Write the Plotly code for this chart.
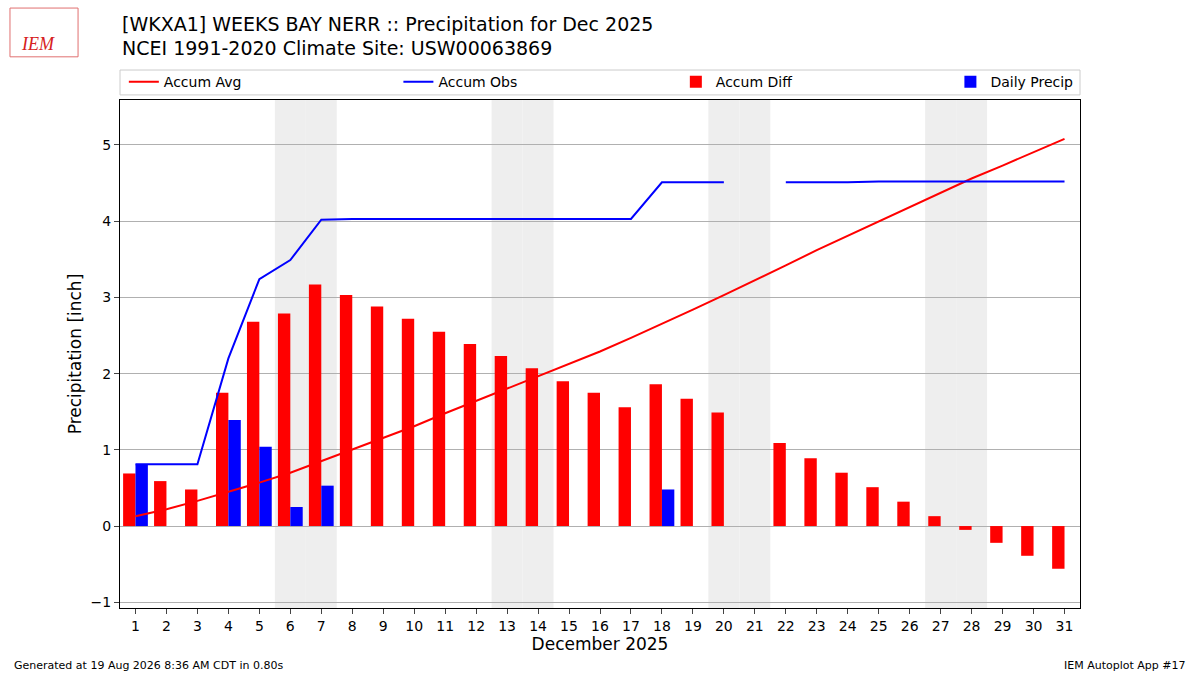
import plotly.graph_objects as go

# Daily values for December 2025 (None = missing)
days = list(range(1, 32))
accum_avg = [0.13, 0.22, 0.33, 0.45, 0.57, 0.70, 0.85, 1.00, 1.15, 1.31,
             1.48, 1.64, 1.80, 1.96, 2.13, 2.29, 2.47, 2.65, 2.84, 3.03,
             3.22, 3.42, 3.62, 3.81, 4.00, 4.19, 4.37, 4.56, 4.73, 4.91, 5.08]
accum_obs = [0.81, 0.81, 0.81, 2.20, 3.24, 3.49, 4.02, 4.03, 4.03, 4.03,
             4.03, 4.03, 4.03, 4.03, 4.03, 4.03, 4.03, 4.51, 4.51, 4.51,
             None, 4.51, 4.51, 4.51, 4.52, 4.52, 4.52, 4.52, 4.52, 4.52, 4.52]
accum_diff = [0.69, 0.59, 0.48, 1.75, 2.68, 2.79, 3.17, 3.03, 2.88, 2.72,
              2.55, 2.39, 2.23, 2.07, 1.90, 1.75, 1.56, 1.86, 1.67, 1.49,
              None, 1.09, 0.89, 0.70, 0.51, 0.32, 0.13, -0.05, -0.22, -0.39, -0.56]
daily_precip = [0.81, 0, 0, 1.39, 1.04, 0.25, 0.53, 0, 0, 0,
                0, 0, 0, 0, 0, 0, 0, 0.48, 0, 0,
                None, 0, 0, 0, 0, 0, 0, 0, 0, 0, 0]
weekend_days = [6, 7, 13, 14, 20, 21, 27, 28]

FONT = "DejaVu Sans"

fig = go.Figure()

# each trace gets its own legend so the entries spread across the top like the original
fig.add_trace(go.Scatter(x=days, y=accum_avg, mode="lines", name="Accum Avg",
                         line=dict(color="red", width=2), legend="legend"))
fig.add_trace(go.Scatter(x=days, y=accum_obs, mode="lines", name="Accum Obs",
                         line=dict(color="blue", width=2), connectgaps=False,
                         legend="legend2"))
fig.add_trace(go.Bar(x=days, y=accum_diff, name="Accum Diff", marker_color="red",
                     marker_line_width=0, width=0.4, offset=-0.4, legend="legend3"))
fig.add_trace(go.Bar(x=days, y=daily_precip, name="Daily Precip", marker_color="blue",
                     marker_line_width=0, width=0.4, offset=0, legend="legend4"))

# weekend shading
shapes = []
for d in weekend_days:
    shapes.append(dict(type="rect", xref="x", yref="paper", x0=d - 0.5, x1=d + 0.5,
                       y0=0, y1=1, fillcolor="#eeeeee", line_width=0, layer="below"))

# legend frame
shapes.append(dict(type="rect", xref="paper", yref="paper", x0=0, x1=1,
                   y0=1.010, y1=1.059, line=dict(color="#cccccc", width=1),
                   fillcolor="white", layer="below"))

# rough IEM logo frame
shapes.append(dict(type="rect", xref="paper", yref="paper", x0=-0.1146, x1=-0.0437,
                   y0=1.085, y1=1.181, line=dict(color="#e07070", width=1),
                   fillcolor="rgba(0,0,0,0)", layer="above"))

leg = dict(orientation="h", y=1.035, xanchor="left", yanchor="middle",
           borderwidth=0, bgcolor="rgba(0,0,0,0)", font=dict(size=14))

fig.update_layout(
    width=1200, height=675,
    plot_bgcolor="white", paper_bgcolor="white",
    margin=dict(l=120, r=120, t=100, b=67, autoexpand=False),
    font=dict(family=FONT, size=14, color="black"),
    barmode="overlay",
    shapes=shapes,
    showlegend=True,
    legend=dict(leg, x=0.004),
    legend2=dict(leg, x=0.290),
    legend3=dict(leg, x=0.579),
    legend4=dict(leg, x=0.865),
    annotations=[
        dict(text="[WKXA1] WEEKS BAY NERR :: Precipitation for Dec 2025",
             xref="paper", yref="paper", x=0, y=1.1496, xanchor="left",
             yanchor="middle", showarrow=False, font=dict(size=19)),
        dict(text="NCEI 1991-2020 Climate Site: USW00063869",
             xref="paper", yref="paper", x=0, y=1.1024, xanchor="left",
             yanchor="middle", showarrow=False, font=dict(size=19)),
        dict(text="<i>IEM</i>", xref="paper", yref="paper", x=-0.085, y=1.0, yshift=56,
             xanchor="center", yanchor="middle", showarrow=False,
             font=dict(family="Liberation Serif", size=18, color="#d62020")),
        dict(text="Generated at 19 Aug 2026 8:36 AM CDT in 0.80s", xref="paper",
             yref="paper", x=-0.113, y=0, yshift=-57, xanchor="left", yanchor="middle",
             showarrow=False, font=dict(size=11)),
        dict(text="IEM Autoplot App #17", xref="paper", yref="paper", x=1.113, y=0,
             yshift=-57, xanchor="right", yanchor="middle", showarrow=False,
             font=dict(size=11)),
    ],
)

fig.update_xaxes(range=[0.5, 31.5], tickmode="array", tickvals=days,
                 ticktext=[str(d) for d in days], ticks="outside", ticklen=5,
                 showgrid=False, showline=True, linecolor="black", mirror=True,
                 zeroline=False, title=dict(text="December 2025", font=dict(size=17),
                                            standoff=4))
fig.update_yaxes(range=[-1.075, 5.59], tickvals=[-1, 0, 1, 2, 3, 4, 5],
                 ticks="outside", ticklen=5, showgrid=True, gridcolor="#b0b0b0",
                 showline=True, linecolor="black", mirror=True, zeroline=False,
                 title=dict(text="Precipitation [inch]", font=dict(size=17), standoff=4))

# page body has a default 8px margin; drop it so the figure fills the window
fig.write_html("out.html", config={"displayModeBar": False},
               post_script="document.body.style.margin='0px';")
